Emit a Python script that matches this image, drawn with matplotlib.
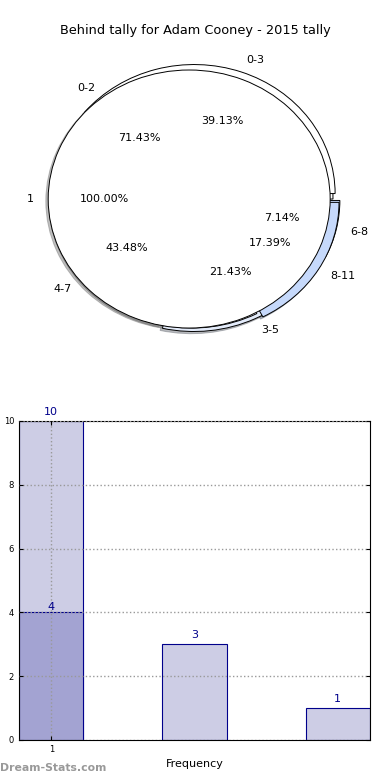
import matplotlib
matplotlib.use('Agg')
import matplotlib.pyplot as plt

# pie data (three overlaid pies)
inner_labels = ['1']
inner_values = [1]
mid_labels = ['0-2', '3-5', '6-8']
mid_values = [10, 3, 1]
outer_labels = ['0-3', '4-7', '8-11']
outer_values = [9, 10, 4]

# bar data
bar_ticks = ['1']
bar_heights = [10, 3, 1]
overlay_heights = [4]

title = 'Behind tally for Adam Cooney - 2015 tally'


def draw_pie(ax, values, labels, colors, explode):
    wedges, texts, autotexts = ax.pie(values, labels=labels, colors=colors, explode=explode,
                                      autopct='%1.2f%%', startangle=0,
                                      shadow={'ox': -0.012, 'oy': -0.012, 'shade': 0.5},
                                      labeldistance=1.1, pctdistance=0.6,
                                      wedgeprops={'edgecolor': 'black', 'linewidth': 0.7})
    for t in texts + autotexts:
        t.set_fontsize(8)
    return wedges


def main() -> None:
    fig = plt.figure(figsize=(3.9, 7.8), dpi=100)

    ax1 = fig.add_axes([0.0404, 0.5381, 0.9038, 0.4135])
    draw_pie(ax1, mid_values, mid_labels, ['white', '#e4ecfb', '#c6d9fb'], [0, 0.03, 0.05])
    draw_pie(ax1, outer_values, outer_labels, ['white', 'white', '#c6d9fb'], [0.045, 0, 0.05])
    draw_pie(ax1, inner_values, inner_labels, ['white'], [0.02])
    ax1.set_aspect('auto')
    ax1.set_xlim(-1.25, 1.25)
    ax1.set_ylim(-1.25, 1.25)
    fig.text(0.5, 0.961, title, ha='center', va='center', fontsize=9.3)

    ax2 = fig.add_axes([0.0487, 0.0513, 0.9, 0.409])
    x = range(len(bar_heights))
    width = 0.45
    ax2.bar(x, bar_heights, width, align='edge', color='#cdcde5', edgecolor='#00008b', linewidth=0.8)
    ax2.bar(range(len(overlay_heights)), overlay_heights, width, align='edge',
            color='#a3a3d2', edgecolor='#00008b', linewidth=0.8)
    for i, h in enumerate(bar_heights):
        ax2.text(i + width / 2, h + 0.12, str(h), ha='center', va='bottom', fontsize=8, color='#00008b')
    for i, h in enumerate(overlay_heights):
        ax2.text(i + width / 2, h + 0.02, str(h), ha='center', va='bottom', fontsize=8, color='#00008b')
    ax2.set_xlim(0, 2.45)
    ax2.set_ylim(0, 10)
    ax2.set_xticks([width / 2])
    ax2.set_xticklabels(bar_ticks)
    ax2.set_yticks([0, 2, 4, 6, 8, 10])
    ax2.tick_params(labelsize=6, direction='in', right=True, top=True, length=3)
    ax2.grid(True, linestyle=':', color='#999999', linewidth=1)
    ax2.set_axisbelow(False)
    ax2.set_xlabel('Frequency', fontsize=8)
    ax2.set_ylabel('Behind tally', fontsize=8)
    ax2.yaxis.set_label_coords(-0.068, 0.5)

    fig.text(0.0, 0.012, 'Dream-Stats.com', fontsize=7.8, color='#999999', fontweight='bold')

    fig.savefig('out.png', dpi=100)
    return None


if __name__ == '__main__':
    main()
